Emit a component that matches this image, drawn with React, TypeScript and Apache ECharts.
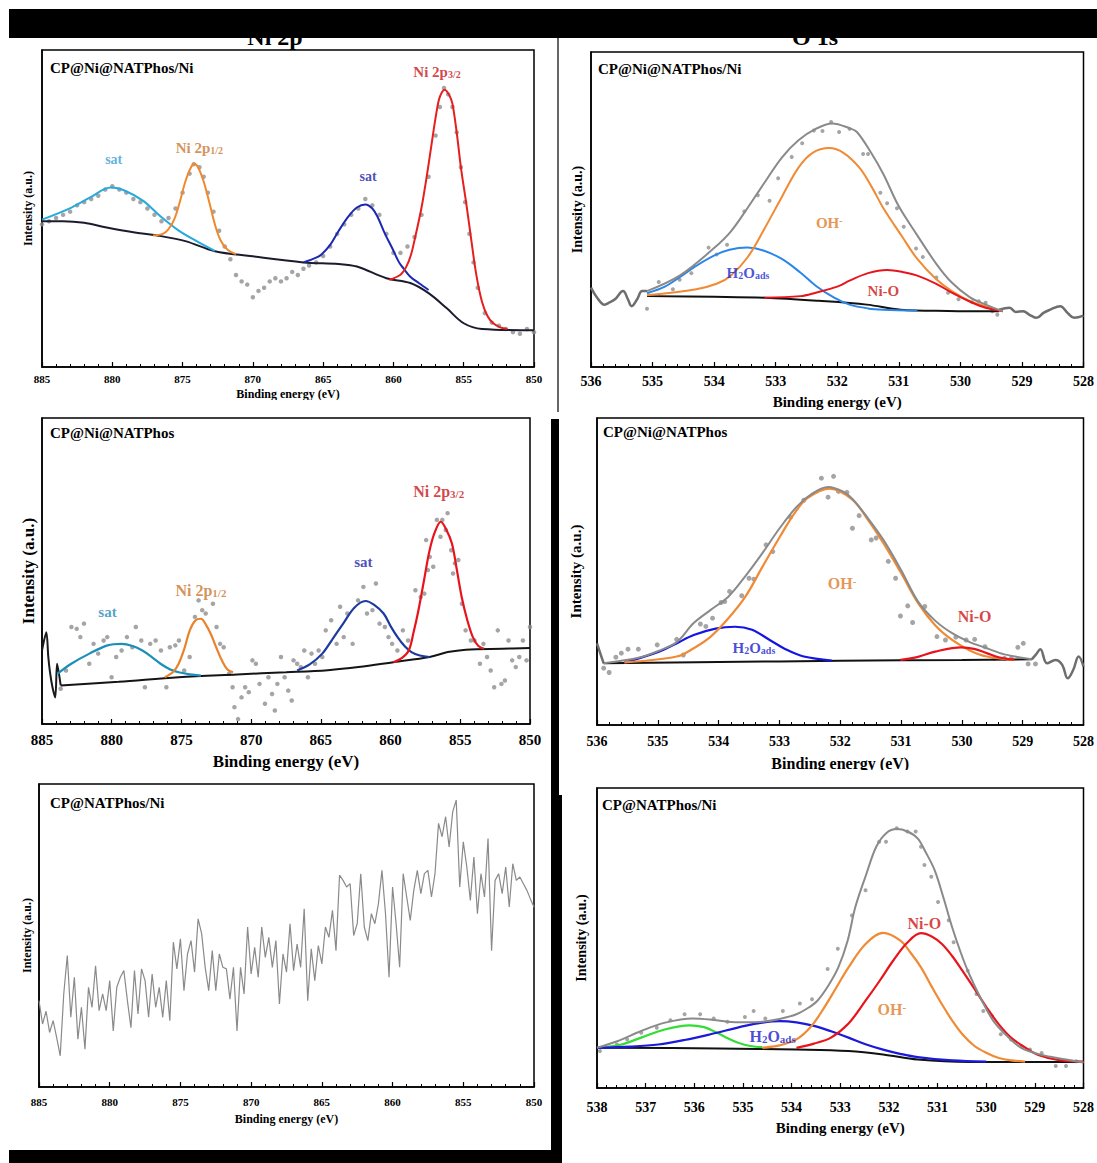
import React, { useEffect, useRef } from "react";
import * as echarts from "echarts";

const FF = '"Liberation Serif", "Times New Roman", serif';

// ---------- Panel 1: Ni 2p, CP@Ni@NATPhos/Ni ----------
const p1Pts = [[885,45],[884.5,46],[884,47],[883.5,48],[883,49],[882.5,51],[882,52],[881.5,53],[881,54],[880.5,56],[880,57],[879.5,56],[879,55],[878.5,53],[878,52],[877.5,50],[877,48],[876.5,46],[876,47],[875.5,50],[875,55],[874.5,61],[874.2,64],[873.8,63],[873.5,60],[873.2,55],[872.8,49],[872.4,43],[872,38],[871.6,34],[871.2,29],[870.8,27],[870.4,26],[870,22],[869.6,24],[869.2,25],[868.8,27],[868.4,28],[868,27],[867.6,28],[867.2,30],[866.8,29],[866.4,31],[866,32],[865.5,33],[865,35],[864.5,38],[864,42],[863.5,45],[863,48],[862.5,50],[862,53],[861.5,51],[861,48],[860.5,42],[860,36],[859.5,36],[859,38],[858.5,41],[858,48],[857.5,60],[857,73],[856.7,82],[856.4,88],[856.1,86],[855.8,82],[855.5,74],[855.2,63],[854.9,52],[854.6,42],[854.3,33],[854,25],[853.5,17],[853,14],[852.5,13],[852,12],[851.5,11],[851,10.5],[850.5,12],[850,11]];
const p1Bg = [[885,46],[883.5,46],[882,45.5],[880.4,44],[878.5,42.5],[876.8,41.5],[874.8,39.7],[872.7,36.5],[870.2,35],[866.4,33],[863.9,32.5],[862.6,31.7],[860.5,28],[858.8,26.5],[857.5,23.3],[856.2,18.5],[855,13.8],[853.7,12],[850,11.6]];
const p1Sat1 = [[885,46.5],[882.9,50.3],[881.6,53.4],[880.1,56.6],[879.1,55.6],[877.8,52.4],[876.6,47.6],[875.3,43.1],[874.0,39.7],[872.7,36.6]];
const p1P12 = [[877.1,41.5],[876.4,42],[876,43.5],[875.6,46.5],[875.2,52],[874.8,58.5],[874.4,63],[874.15,64],[873.9,63],[873.5,58.5],[873.1,52],[872.7,45],[872.3,40],[871.8,37],[871.2,35.6]];
const p1Sat2 = [[866.4,33],[865.5,34.5],[865.1,35.6],[864.5,38.5],[863.9,42.9],[863.2,47.5],[862.6,50.3],[862.0,51.3],[861.5,50],[861.1,47.1],[860.6,42],[860.1,37.6],[859.6,33],[859.3,31.2],[858.8,28.5],[858.2,26.5],[857.5,24.3]];
const p1P32 = [[860.3,27.5],[859.5,29.1],[859.1,31.5],[858.75,35.4],[858.4,42],[858.0,50.3],[857.6,61],[857.25,71.4],[856.95,80],[856.7,85.2],[856.35,87.5],[856.0,85.5],[855.8,83],[855.5,74],[855.2,63],[854.8,51],[854.45,39.7],[854.1,29],[853.7,20.6],[853.3,16],[852.9,13.8],[852.4,12.5],[851.9,12]];

// ---------- Panel 2: O 1s, CP@Ni@NATPhos/Ni ----------
const p2Pts = [[535.09,18.5],[534.9,27.0],[534.67,24.7],[534.56,27.7],[534.37,29.8],[534.09,37.9],[533.96,35.7],[533.79,38.8],[533.51,49.4],[533.29,54.5],[533.1,52.8],[532.96,59.9],[532.74,66.7],[532.57,71.0],[532.38,75.1],[532.24,74.9],[532.1,77.8],[531.97,74.6],[531.8,75.6],[531.58,67.6],[531.5,67.6],[531.3,55.3],[531.19,52.0],[531.03,50.4],[530.92,44.5],[530.72,37.6],[530.61,34.9],[530.39,28.4],[530.2,23.6],[530.03,21.5],[529.81,20.6],[529.7,20.9],[529.59,20.4],[529.48,17.7],[529.4,16.6]];
const p2WingL = [[536,25.2],[535.9,22],[535.78,19.8],[535.7,20.5],[535.61,21.5],[535.48,24.1],[535.4,21.5],[535.34,19.3],[535.25,21.5],[535.17,24.1],[535.09,24.1]];
const p2WingR = [[529.37,18.2],[529.2,18.8],[529.1,17.5],[528.98,17.7],[528.87,16.5],[528.76,15.6],[528.65,17.2],[528.54,18.2],[528.38,19.3],[528.25,17],[528.15,15.6],[528.0,16.3]];
const p2Bg = [[535.09,22.5],[534,22.3],[533.18,22],[532.3,21],[531.52,19.8],[530.97,18.2],[530.2,17.8],[529.37,17.7]];
const p2H2O = [[535.09,23.4],[534.8,25.5],[534.56,28.5],[534.3,32],[534.01,35.3],[533.75,37.2],[533.46,37.9],[533.2,37],[532.9,34.3],[532.6,30],[532.35,25.8],[532.05,22],[531.8,19.8],[531.5,18.6],[531.25,18.2],[530.7,17.9]];
const p2OH = [[535.09,22.8],[534.29,24.7],[533.95,26.5],[533.73,29],[533.45,35],[533.18,44],[532.9,54],[532.63,63.3],[532.4,68],[532.13,69.5],[531.9,68],[531.64,63.3],[531.45,57.5],[531.25,50.4],[530.95,41.5],[530.7,34.3],[530.4,28],[530.14,24.1],[529.85,21],[529.59,19.3],[529.31,17.7]];
const p2NiO = [[533.18,22],[532.6,22.5],[532.35,23.6],[532.0,25.5],[531.8,27.4],[531.5,29.8],[531.19,30.8],[530.9,30],[530.7,29],[530.4,26.5],[530.14,23.6],[529.85,20.8],[529.59,18.8],[529.31,17.7]];
const p2Env = [[535.09,24.1],[534.56,29],[534.01,37.6],[533.73,43],[533.46,50.4],[533.2,58],[532.9,66.5],[532.63,72],[532.35,75.6],[532.08,77.3],[531.8,75.8],[531.68,74.6],[531.45,68],[531.25,61.2],[531.0,51],[530.7,41.8],[530.4,33],[530.14,26.8],[529.85,22.2],[529.59,19.8],[529.31,17.7]];

// ---------- Panel 3: Ni 2p, CP@Ni@NATPhos ----------
const p3Pts = [[883.66,11.5],[883.28,17.5],[882.89,31.7],[882.51,31.1],[882.25,28.4],[881.99,32.8],[881.61,19.7],[881.3,26.2],[880.97,23],[880.58,27.3],[880.32,28.4],[880.01,15.3],[879.68,21.9],[879.29,24],[878.91,28.4],[878.52,25.1],[878.27,31.7],[877.88,27.3],[877.62,12],[877.24,26.2],[876.85,27.3],[876.47,24],[876.08,12],[875.83,25.1],[875.44,25.7],[875.18,27.3],[874.8,17.5],[874.41,21.9],[874.03,35],[873.77,40.4],[873.51,37.2],[873.26,36.1],[872.74,39.3],[872.48,31.7],[872.23,26.2],[871.97,25.1],[871.58,16.4],[871.33,12],[871.2,5.5],[870.94,1.6],[870.69,8.7],[870.43,12],[870.17,10.4],[869.91,20.8],[869.66,19.7],[869.4,13.1],[869.01,6.6],[868.76,15.3],[868.5,9.8],[868.3,4.4],[868.12,13.1],[867.86,21.9],[867.6,15.3],[867.34,10.9],[867.09,7.7],[866.96,20.8],[866.7,19.7],[866.44,18.6],[866.19,24],[865.93,15.3],[865.67,23],[865.42,19.7],[865.16,24],[864.9,21.9],[864.65,30.6],[864.26,33.9],[863.87,26.2],[863.62,38.3],[863.36,28.4],[863.1,36.1],[862.72,26.2],[862.33,40.4],[861.95,44.8],[861.69,36.1],[861.3,37.2],[861.05,45.9],[860.79,32.8],[860.41,31.7],[860.15,28.4],[859.89,26.2],[859.51,24],[859.12,30.6],[858.74,27.3],[858.22,43.7],[857.84,41.5],[857.58,42.6],[857.45,60.1],[857.32,50.3],[857.19,54.6],[856.94,51.4],[856.68,66.7],[856.42,61.2],[856.29,66.7],[856.04,63.4],[855.91,68.9],[855.65,56.8],[855.52,49.2],[855.39,52.5],[855.14,53.6],[854.88,39.3],[854.62,30.6],[854.24,27.3],[853.98,27.3],[853.59,19.7],[853.34,26.2],[853.08,21.9],[852.82,17.5],[852.57,12],[852.31,30.6],[852.05,13.1],[851.8,14.2],[851.54,27.3],[851.28,20.8],[851.02,18.6],[850.77,21.9],[850.51,27.3],[850.25,20.8],[850.0,31.7]];
const p3WingL = [[885,24],[884.69,30],[884.55,22],[884.43,17],[884.25,12],[884.05,8.7],[883.92,19.7],[883.79,16.6],[883.66,12.6]];
const p3Bg = [[883.66,12.6],[879.5,13.8],[875.2,15.3],[871,16.2],[867.5,16.9],[864.5,17.6],[862.3,18.6],[859.8,20.2],[857.2,21.9],[855.9,23.5],[854.6,24.3],[852,24.6],[850,24.8]];
const p3Sat1 = [[883.9,16.4],[882.9,19.7],[881.6,23],[880.3,25.7],[879.3,26.2],[878.5,25.5],[877.8,24],[877.1,21.8],[876.5,19.7],[875.8,17.8],[875.2,16.9],[874.4,16.2],[873.6,15.8]];
const p3P12 = [[876.2,15.3],[875.6,17],[875.2,19.7],[874.8,24.5],[874.4,30.6],[874.0,33.8],[873.6,34.4],[873.25,32.5],[872.9,29.5],[872.5,25],[872.1,20.8],[871.7,17.8],[871.3,16.9]];
const p3Sat2 = [[866.7,17.5],[865.8,19.5],[864.9,23],[864.2,27.5],[863.4,32.8],[862.6,38],[861.8,40.2],[861.2,39],[860.5,36.1],[860.0,32],[859.5,28.4],[859.0,25.5],[858.5,23.5],[857.9,22.4],[857.2,21.9]];
const p3P32 = [[859.8,20.2],[859.2,21.5],[858.7,24],[858.35,30],[858.0,37.2],[857.6,47],[857.2,56.8],[856.8,63],[856.4,66.1],[856.0,63.5],[855.6,59],[855.25,50.5],[854.9,41.5],[854.5,34],[854.1,28.4],[853.7,25.5],[853.3,24.6]];

// ---------- Panel 4: O 1s, CP@Ni@NATPhos ----------
const p4Pts = [[535.89,18.5],[535.8,17.1],[535.69,22.1],[535.6,23.4],[535.49,24.7],[535.32,24.7],[535.01,26.1],[534.69,27.9],[534.58,22.8],[534.3,32.9],[534.21,32.1],[534.1,34.8],[533.96,39.9],[533.9,40.2],[533.82,43.5],[533.62,42.1],[533.5,47.8],[533.42,47.5],[533.22,58.7],[533.11,56.5],[532.82,67.7],[532.6,73.2],[532.31,80.4],[532.2,74.2],[532.11,81.0],[532.03,76.1],[531.89,75.8],[531.8,64.1],[531.69,68.2],[531.49,60.3],[531.41,60.9],[531.21,53.3],[531.09,47.8],[531.01,35.5],[530.89,38.8],[530.81,33.4],[530.61,38.6],[530.41,28.8],[530.27,27.7],[530.1,28.6],[529.93,27.7],[529.79,27.9],[529.62,25.5],[529.47,21.7],[529.3,21.7],[529.19,21.7],[529.08,25.3],[528.99,26.6],[528.91,19.9],[528.79,19.9]];
const p4WingL = [[536,26.6],[535.94,23],[535.89,20.1]];
const p4WingR = [[528.85,21.4],[528.78,23],[528.71,24.7],[528.6,20.1],[528.46,21.2],[528.35,19.6],[528.26,15.2],[528.17,17.9],[528.08,22.3],[528,19]];
const p4Bg = [[535.89,20.1],[534,20.5],[532,20.9],[530,21.2],[528.85,21.4]];
const p4H2O = [[535.55,20.3],[534.98,23.9],[534.7,26.5],[534.41,29.3],[534.05,31.4],[533.73,32],[533.45,31],[533.16,27.7],[532.88,24.5],[532.6,22.3],[532.14,21]];
const p4OH = [[535.55,20.4],[534.69,22.3],[534.41,25],[534.13,28.8],[533.85,34.5],[533.56,41.8],[533.28,51.5],[532.99,61.4],[532.75,69],[532.54,73.9],[532.17,77],[531.8,73.4],[531.55,67],[531.29,59.2],[531.0,49.5],[530.72,39.7],[530.44,32.5],[530.16,27.7],[529.87,24.3],[529.59,22.3],[529.14,21.2]];
const p4NiO = [[531.01,21.2],[530.72,22.2],[530.44,23.9],[530.01,25.3],[529.8,24.8],[529.59,23.4],[529.38,22],[529.14,21.3]];
const p4Env = [[535.89,20.1],[535.3,22],[534.98,24.2],[534.69,27],[534.41,33.2],[534.13,37.5],[533.84,41.8],[533.56,48.5],[533.28,56],[533.0,64],[532.71,71.2],[532.45,75.5],[532.2,77.5],[531.95,76],[531.8,73.6],[531.55,67.5],[531.29,60.3],[531.0,50.5],[530.72,40.2],[530.44,34],[530.16,29.9],[529.87,27],[529.59,25],[529.3,23],[528.85,21.4]];

// ---------- Panel 5: Ni 2p, CP@NATPhos/Ni (raw spectrum, 0.25 eV steps from 885 eV) ----------
const p5Start = 885;
const p5Step = 0.25;
const p5Vals = [28.5,20.8,25,18,21.9,16.3,10.3,30.7,43.4,23,36.2,15.8,26.3,12.5,32.9,26.3,40,25.2,30.7,25.2,35.1,18.5,32.9,36.2,38.4,28.5,19.6,38.4,24.1,39,35.1,23,37.3,26.3,32.9,23,35.1,21.9,47.8,39,48.9,31.8,43.9,48.3,37.9,55.5,50.6,39.5,31.8,45,31.8,43.9,39.5,39,29,39.5,18.5,39.5,30.7,52.8,37.3,46.1,36.2,52.8,42.8,49.4,39.5,48.3,27.4,43.9,37.9,53.9,38.4,47.2,39.5,58.8,28.5,45.6,35.1,46.7,40.6,52.8,49.4,58.3,45,69.9,68.2,66,67.1,50,53.9,70.4,52.8,48.3,57.2,53.9,60.5,71.5,57.2,36.2,66,53.9,39.5,70.4,62.7,55,64.9,71.5,63.8,70.4,71.5,62.7,70.4,87,82.6,89.2,79.2,90.8,94.7,66,80.9,72.6,61.6,75.9,57.2,70.4,62.7,82,45,68.2,70.4,63.8,72.6,59.4,73.7,68.2,69.3,67.1,64.9,62,59.4];

// ---------- Panel 6: O 1s, CP@NATPhos/Ni ----------
const p6Pts = [[537.94,12.3],[537.59,14.5],[537.38,16.2],[537.09,18.4],[536.77,20.1],[536.49,22.6],[536.2,24.6],[535.88,24.6],[535.6,23.2],[535.32,22.1],[534.96,23.7],[534.78,25.7],[534.54,23.2],[534.18,25.7],[533.83,28.2],[533.58,29.6],[533.26,39.7],[533.05,46.4],[532.76,57.5],[532.48,65.9],[532.2,82.1],[532.06,82.1],[531.84,86.6],[531.62,85.5],[531.45,85.5],[531.34,80.4],[531.27,74.3],[531.13,70.4],[530.99,62],[530.77,55.9],[530.67,48.6],[530.38,39.1],[530.2,31.3],[530.06,25.7],[529.88,24],[529.7,17.9],[529.49,16.2],[529.28,14],[529.1,12.8],[528.86,11.7],[528.57,7.3],[528.36,7.3],[528.15,8.9]];
const p6Bg = [[538,13.4],[535.5,13.2],[533.9,12.8],[532.83,12.3],[532.12,11.2],[531.41,9.5],[530.35,8.7],[528,8.7]];
const p6Green = [[538,13.4],[537.5,14.5],[537.09,16.8],[536.59,19.6],[536.1,20.9],[535.8,20.3],[535.53,18.4],[535.3,16.5],[535.1,15.1],[534.85,14],[534.6,13.6]];
const p6H2O = [[538,13.4],[537.3,13.8],[536.74,14.5],[536.2,16],[535.67,17.9],[534.96,20.7],[534.6,21.8],[534.25,22.3],[533.9,21.9],[533.54,20.7],[533.19,18.9],[532.83,16.8],[532.48,14.6],[532.12,12.8],[531.77,11.4],[531.41,10.3],[530.7,9.2],[530,8.8]];
const p6OH = [[534.6,13.4],[534.25,14.2],[533.9,16.2],[533.6,20.5],[533.33,26.8],[533.08,33.5],[532.83,40.2],[532.48,48],[532.12,51.7],[531.77,49.2],[531.55,45],[531.34,40.2],[531.12,33.8],[530.91,27.9],[530.7,22.5],[530.49,17.9],[530.24,14],[529.99,11.7],[529.74,10],[529.49,9.2],[529.2,8.8]];
const p6NiO = [[533.9,13.4],[533.54,14.8],[533.19,16.8],[532.83,21.5],[532.48,29.1],[532.2,35.5],[531.91,42.5],[531.62,48.5],[531.34,51.6],[531.12,50.5],[530.91,48],[530.7,44],[530.49,39.1],[530.24,33],[529.99,26.8],[529.74,21.2],[529.49,16.8],[529.2,13.5],[528.93,11],[528.5,9.3],[528,8.8]];
const p6Env = [[538,13.4],[537.6,15.5],[537.09,19],[536.6,21.8],[536.03,23.2],[535.6,22.7],[535.32,22.1],[534.96,21.9],[534.6,22.1],[534.25,23],[533.9,24.6],[533.68,26.5],[533.47,29.1],[533.25,34],[533.04,40.2],[532.85,49],[532.69,60.3],[532.47,71],[532.26,80.4],[532.05,85],[531.84,86.3],[531.62,85.5],[531.41,83.2],[531.24,78.5],[531.06,72.6],[530.88,63.5],[530.7,53.6],[530.52,45],[530.35,38],[530.1,29.5],[529.85,22.3],[529.55,17],[529.28,13.4],[528.9,11.2],[528.57,10.1],[528,8.5]];

// ---------- Texts ----------
const sampleNames = ["CP@Ni@NATPhos/Ni", "CP@Ni@NATPhos/Ni", "CP@Ni@NATPhos", "CP@Ni@NATPhos", "CP@NATPhos/Ni", "CP@NATPhos/Ni"];
const columnTitles = ["Ni 2p", "O 1s"];
// annotations: [panel, eV, intensity, rich text, colour]
const peakLabels: [number, number, number, string, string, number][] = [
  [0, 879.9, 65.6, "{m|sat}", "#3a9ed4", 14],
  [0, 873.8, 69.0, "{m|Ni 2p}{s|1/2}", "#c9772e", 15],
  [0, 861.8, 60.0, "{m|sat}", "#1a22a8", 14],
  [0, 856.9, 93.0, "{m|Ni 2p}{s|3/2}", "#c81418", 15],
  [1, 532.13, 45.6, "{m|OH}{t|-}", "#e07a28", 15],
  [1, 533.45, 30.0, "{m|H}{s|2}{m|O}{s|ads}", "#1a2ad0", 15],
  [1, 531.25, 24.1, "{m|Ni-O}", "#cc1414", 15],
  [2, 880.3, 36.6, "{m|sat}", "#2a8ab8", 15],
  [2, 873.6, 43.7, "{m|Ni 2p}{s|1/2}", "#c9772e", 16],
  [2, 861.95, 53.0, "{m|sat}", "#1a22a8", 15],
  [2, 856.55, 76.0, "{m|Ni 2p}{s|3/2}", "#c81418", 16],
  [3, 531.97, 46.2, "{m|OH}{t|-}", "#e07a28", 16],
  [3, 533.42, 25.0, "{m|H}{s|2}{m|O}{s|ads}", "#1a1acc", 15],
  [3, 529.79, 35.5, "{m|Ni-O}", "#cc1414", 16],
  [5, 531.27, 54.7, "{m|Ni-O}", "#cc1414", 16],
  [5, 531.94, 26.3, "{m|OH}{t|-}", "#e07a28", 16],
  [5, 534.39, 17.3, "{m|H}{s|2}{m|O}{s|ads}", "#1a1acc", 16],
];

const grids = [
  { left: 42, top: 50, width: 492, height: 317 },
  { left: 591, top: 52, width: 496, height: 315 },
  { left: 42, top: 418, width: 488, height: 306 },
  { left: 597, top: 418, width: 487, height: 307 },
  { left: 39, top: 784, width: 495, height: 303 },
  { left: 597, top: 788, width: 487, height: 300 },
];
// [min, max, interval, labelFs, labelMargin, nameFs, nameGap, yNameFs, yNameGap]
const axisSpec = [
  [850, 885, 5, 11, 6, 12, 21, 12, 8],
  [528, 536, 1, 14, 7, 15, 27, 14, 7],
  [850, 885, 5, 15, 8, 17, 29, 17, 5],
  [528, 536, 1, 14, 9, 16, 30, 15, 14],
  [850, 885, 5, 11, 9, 12, 26, 12, 6],
  [528, 538, 1, 14, 12, 15, 32, 14, 9],
];

function buildOption() {
  const xAxis = axisSpec.map((a, i) => ({
    type: "value", gridIndex: i, min: a[0], max: a[1], interval: a[2], inverse: true,
    name: "Binding energy (eV)", nameLocation: "middle", nameGap: a[6],
    nameTextStyle: { fontFamily: FF, fontWeight: "bold", fontSize: a[5], color: "#000" },
    axisLine: { onZero: false, lineStyle: { color: "#000", width: 1.5 } },
    axisTick: { inside: true, length: 5, lineStyle: { color: "#000", width: 1.2 } },
    minorTick: { show: true, splitNumber: 5, length: 3, lineStyle: { color: "#000", width: 1 } },
    axisLabel: { fontFamily: FF, fontWeight: "bold", fontSize: a[3], color: "#000", margin: a[4], showMinLabel: true, showMaxLabel: true },
    splitLine: { show: false },
  }));
  const yAxis = axisSpec.map((a, i) => ({
    type: "value", gridIndex: i, min: 0, max: 100,
    name: "Intensity (a.u.)", nameLocation: "middle", nameRotate: 90, nameGap: a[8],
    nameTextStyle: { fontFamily: FF, fontWeight: "bold", fontSize: a[7], color: "#000" },
    axisLine: { show: true, lineStyle: { color: "#000", width: 1.5 } },
    axisTick: { show: false }, axisLabel: { show: false }, splitLine: { show: false },
  }));
  const series: any[] = [];
  const line = (g: number, data: number[][], color: string, width = 2, smooth: number | boolean = 0.35, z = 3) =>
    series.push({ type: "line", xAxisIndex: g, yAxisIndex: g, data, showSymbol: false, symbol: "none", smooth, z,
      lineStyle: { color, width }, silent: true });
  const dots = (g: number, data: number[][], size = 4.5) =>
    series.push({ type: "scatter", xAxisIndex: g, yAxisIndex: g, data, symbolSize: size, z: 2,
      itemStyle: { color: "#8f8f8f" }, silent: true });

  // panel 1
  dots(0, p1Pts);
  line(0, p1Bg, "#1b1b2e", 2);
  line(0, p1Sat1, "#26a9dc", 2);
  line(0, p1P12, "#f0892e", 2);
  line(0, p1Sat2, "#1c28b4", 2);
  line(0, p1P32, "#e61e1e", 2);
  // panel 2
  dots(1, p2Pts, 4);
  line(1, p2WingL, "#6e6e6e", 2.5, 0.4);
  line(1, p2WingR, "#6e6e6e", 2.5, 0.4);
  line(1, p2Bg, "#111111", 2);
  line(1, p2H2O, "#2a86e8", 2);
  line(1, p2OH, "#f08a34", 2);
  line(1, p2NiO, "#e8141c", 2);
  line(1, p2Env, "#8a8a8a", 2);
  // panel 3
  dots(2, p3Pts, 4.5);
  line(2, p3WingL, "#1a1a1a", 2, 0.3);
  line(2, p3Bg, "#141414", 2);
  line(2, p3Sat1, "#1a8fb8", 2.2);
  line(2, p3P12, "#e8832c", 2.2);
  line(2, p3Sat2, "#1d3aa0", 2.2);
  line(2, p3P32, "#e8141c", 2.2);
  // panel 4
  dots(3, p4Pts, 5);
  line(3, p4WingL, "#6e6e6e", 2.5, 0.4);
  line(3, p4WingR, "#6e6e6e", 2.5, 0.4);
  line(3, p4Bg, "#111111", 2);
  line(3, p4H2O, "#1414e6", 2.2);
  line(3, p4OH, "#f08a34", 2.2);
  line(3, p4NiO, "#e8141c", 2.2);
  line(3, p4Env, "#8a8a8a", 2);
  // panel 5
  line(4, p5Vals.map((v, i) => [p5Start - i * p5Step, v]), "#8a8a8a", 1.2, false);
  // panel 6
  dots(5, p6Pts, 4);
  line(5, p6Bg, "#111111", 2);
  line(5, p6Green, "#33dd33", 2.2);
  line(5, p6H2O, "#1a1ad8", 2.2);
  line(5, p6OH, "#f08a34", 2.2);
  line(5, p6NiO, "#e8141c", 2.2);
  line(5, p6Env, "#8a8a8a", 2);

  peakLabels.forEach(([g, x, y, text, color, fs]) => {
    const base = { fontFamily: FF, fontWeight: "bold", color };
    series.push({
      type: "scatter", xAxisIndex: g, yAxisIndex: g, data: [[x, y]], symbolSize: 1, z: 10, silent: true,
      itemStyle: { color: "rgba(0,0,0,0)" },
      label: {
        show: true, position: "inside", formatter: text,
        rich: {
          m: { ...base, fontSize: fs, lineHeight: fs, verticalAlign: "bottom" },
          s: { ...base, fontSize: Math.round(fs * 0.68), lineHeight: Math.round(fs * 0.68), verticalAlign: "bottom" },
          t: { ...base, fontSize: Math.round(fs * 0.68), lineHeight: fs, verticalAlign: "top" },
        },
      },
    });
  });

  const samplePos = [[50, 68], [598, 69], [50, 433], [603, 432], [50, 803], [602, 805]];
  const graphic: any[] = [
    { type: "text", x: 275, y: 49, z: 50, style: { text: columnTitles[0], font: `bold 24px ${FF}`, fill: "#000", textAlign: "center", textVerticalAlign: "bottom" } },
    { type: "text", x: 815, y: 49, z: 50, style: { text: columnTitles[1], font: `bold 24px ${FF}`, fill: "#000", textAlign: "center", textVerticalAlign: "bottom" } },
    { type: "rect", z: 100, shape: { x: 9, y: 9, width: 1088, height: 29 }, style: { fill: "#000" } },
    { type: "line", z: 100, shape: { x1: 558, y1: 38, x2: 558, y2: 412 }, style: { stroke: "#000", lineWidth: 1.2 } },
    { type: "rect", z: 100, shape: { x: 551, y: 419, width: 8, height: 377 }, style: { fill: "#000" } },
    { type: "rect", z: 100, shape: { x: 551, y: 795, width: 11, height: 368 }, style: { fill: "#000" } },
    { type: "rect", z: 100, shape: { x: 9, y: 1150, width: 553, height: 13 }, style: { fill: "#000" } },
    { type: "rect", z: 90, shape: { x: 180, y: 400, width: 200, height: 12 }, style: { fill: "#fff" } },
    { type: "rect", z: 90, shape: { x: 720, y: 770, width: 260, height: 14 }, style: { fill: "#fff" } },
  ];
  sampleNames.forEach((t, i) => {
    graphic.push({ type: "text", x: samplePos[i][0], y: samplePos[i][1], z: 60,
      style: { text: t, font: `bold 15px ${FF}`, fill: "#000", textAlign: "left", textVerticalAlign: "middle" } });
  });

  return {
    animation: false,
    backgroundColor: "#fff",
    grid: grids.map((g) => ({ ...g, show: true, borderColor: "#000", borderWidth: 1.5, containLabel: false })),
    xAxis, yAxis, series, graphic,
  };
}

export default function App() {
  const ref = useRef<HTMLDivElement>(null);
  useEffect(() => {
    if (!ref.current) return;
    const chart = echarts.init(ref.current, undefined, { renderer: "svg" });
    chart.setOption(buildOption() as any);
    return () => chart.dispose();
  }, []);
  return <div ref={ref} style={{ position: "absolute", left: 0, top: 0, width: 1097, height: 1163 }} />;
}
